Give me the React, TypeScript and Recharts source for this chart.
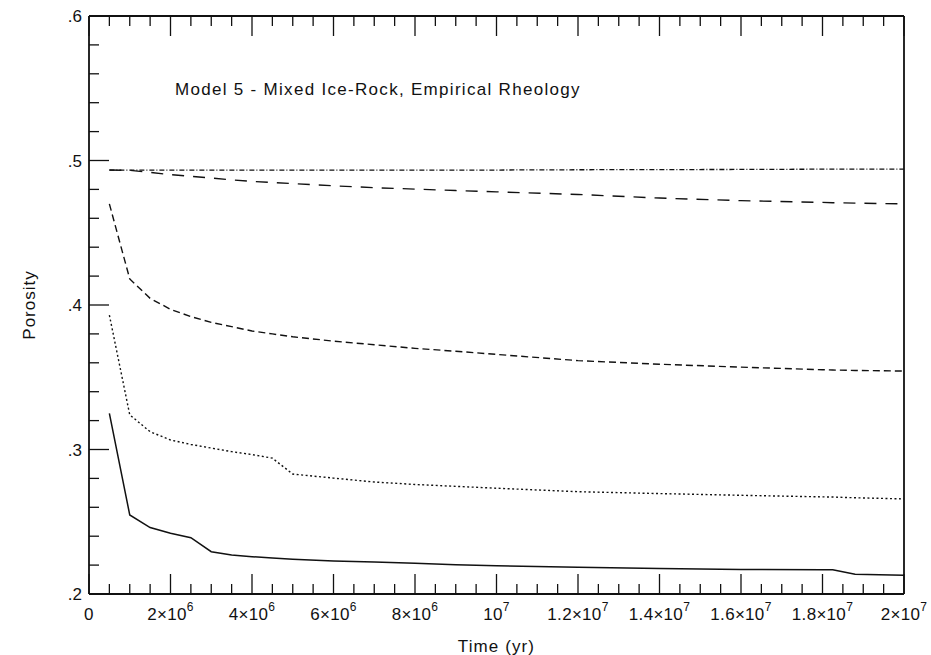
import { Line, LineChart, XAxis, YAxis } from "recharts";

// time in years
const times = [
  5e5, 1e6, 1.5e6, 2e6, 2.5e6, 3e6, 3.5e6, 4e6, 4.5e6, 5e6, 6e6, 7e6, 8e6, 9e6,
  1e7, 1.2e7, 1.4e7, 1.6e7, 1.8e7, 1.825e7, 1.88e7, 2e7,
];

const porosityA = [
  0.325, 0.2547, 0.246, 0.242, 0.239, 0.2293, 0.227, 0.2258, 0.2249, 0.224, 0.2228, 0.2222,
  0.2212, 0.2202, 0.2195, 0.2185, 0.2176, 0.217, 0.2168, 0.2167, 0.2136, 0.213,
];
const porosityB = [
  0.393, 0.324, 0.3123, 0.3066, 0.3035, 0.301, 0.2985, 0.2965, 0.294, 0.283, 0.2802, 0.2775,
  0.2758, 0.2745, 0.2732, 0.2708, 0.2695, 0.2683, 0.2672, 0.2671, 0.2666, 0.2658,
];
const porosityC = [
  0.47, 0.418, 0.4046, 0.397, 0.392, 0.388, 0.385, 0.382, 0.38, 0.378, 0.375, 0.3725, 0.37,
  0.368, 0.3658, 0.3615, 0.359, 0.357, 0.3552, 0.355, 0.3547, 0.3543,
];
const porosityD = [
  0.4934, 0.4932, 0.4918, 0.4902, 0.489, 0.4879, 0.4866, 0.4855, 0.4848, 0.484, 0.4825,
  0.4812, 0.4802, 0.4792, 0.4783, 0.4765, 0.474, 0.4722, 0.471, 0.4708, 0.4705, 0.47,
];
const porosityE = [
  0.4934, 0.4934, 0.4934, 0.4934, 0.4934, 0.4934, 0.4934, 0.4934, 0.4934, 0.4934, 0.4934,
  0.4934, 0.4934, 0.4934, 0.4934, 0.4936, 0.4937, 0.4938, 0.494, 0.494, 0.494, 0.4941,
];

const xLabelValues = [0, 2e6, 4e6, 6e6, 8e6, 1e7, 1.2e7, 1.4e7, 1.6e7, 1.8e7, 2e7];
const xLabelMantissa = ["0", "2", "4", "6", "8", "", "1.2", "1.4", "1.6", "1.8", "2"];
const xLabelExponent = ["", "6", "6", "6", "6", "7", "7", "7", "7", "7", "7"];

const yLabelValues = [0.2, 0.3, 0.4, 0.5, 0.6];
const yLabels = [".2", ".3", ".4", ".5", ".6"];

const data = times.map((t, i) => ({
  t,
  a: porosityA[i],
  b: porosityB[i],
  c: porosityC[i],
  d: porosityD[i],
  e: porosityE[i],
}));

const xTicks = Array.from({ length: 41 }, (_, i) => i * 5e5);
const yTicks = Array.from({ length: 21 }, (_, i) => Math.round((0.2 + i * 0.02) * 100) / 100);

const INK = "#111";
const FONT = "'Liberation Sans', Arial, sans-serif";

const isXMajor = (v: number) => xLabelValues.includes(v);
const isYMajor = (v: number) => yLabelValues.some((m) => Math.abs(m - v) < 1e-6);

function BottomTick({ x, y, payload }: any) {
  const v = payload.value;
  const major = isXMajor(v);
  const idx = xLabelValues.indexOf(v);
  let label = null;
  if (idx >= 0) {
    const m = xLabelMantissa[idx];
    const e = xLabelExponent[idx];
    label = (
      <text
        x={x}
        y={y + 26}
        textAnchor="middle"
        fontSize={17}
        letterSpacing={0.3}
        fontFamily={FONT}
        fill={INK}
      >
        {e === "" ? m : m === "" ? "10" : `${m}×10`}
        {e !== "" && (
          <tspan fontSize={12} dy={-9}>
            {e}
          </tspan>
        )}
      </text>
    );
  }
  return (
    <g>
      <line x1={x} x2={x} y1={y} y2={y - (major ? 20 : 10)} stroke={INK} strokeWidth={1.3} />
      {label}
    </g>
  );
}

function TopTick({ x, y, payload }: any) {
  const major = isXMajor(payload.value);
  return <line x1={x} x2={x} y1={y} y2={y + (major ? 20 : 10)} stroke={INK} strokeWidth={1.3} />;
}

function LeftTick({ x, y, payload }: any) {
  const v = payload.value;
  const major = isYMajor(v);
  const idx = yLabelValues.findIndex((m) => Math.abs(m - v) < 1e-6);
  return (
    <g>
      <line x1={x} x2={x + (major ? 20 : 10)} y1={y} y2={y} stroke={INK} strokeWidth={1.3} />
      {idx >= 0 && (
        <text x={x - 7} y={y + 6} textAnchor="end" fontSize={17} fontFamily={FONT} fill={INK}>
          {yLabels[idx]}
        </text>
      )}
    </g>
  );
}

function RightTick({ x, y, payload }: any) {
  const major = isYMajor(payload.value);
  return <line x1={x} x2={x - (major ? 20 : 10)} y1={y} y2={y} stroke={INK} strokeWidth={1.3} />;
}

export default function App() {
  const axisLine = { stroke: INK, strokeWidth: 1.8 };
  return (
    <div style={{ position: "absolute", left: 0, top: 0, width: 931, height: 655, background: "#fff" }}>
      <LineChart
        width={931}
        height={655}
        data={data}
        margin={{ top: 15, right: 26, bottom: 21, left: 39 }}
      >
        <XAxis
          xAxisId="bottom"
          dataKey="t"
          type="number"
          domain={[0, 2e7]}
          ticks={xTicks}
          interval={0}
          height={40}
          tickSize={0}
          tickMargin={0}
          tickLine={false}
          axisLine={axisLine}
          tick={<BottomTick />}
        />
        <XAxis
          xAxisId="top"
          orientation="top"
          dataKey="t"
          type="number"
          domain={[0, 2e7]}
          ticks={xTicks}
          interval={0}
          height={1}
          tickSize={0}
          tickMargin={0}
          tickLine={false}
          axisLine={axisLine}
          tick={<TopTick />}
        />
        <YAxis
          yAxisId="left"
          type="number"
          domain={[0.2, 0.6]}
          ticks={yTicks}
          interval={0}
          width={50}
          tickSize={0}
          tickMargin={0}
          tickLine={false}
          axisLine={axisLine}
          tick={<LeftTick />}
        />
        <YAxis
          yAxisId="right"
          orientation="right"
          type="number"
          domain={[0.2, 0.6]}
          ticks={yTicks}
          interval={0}
          width={1}
          tickSize={0}
          tickMargin={0}
          tickLine={false}
          axisLine={axisLine}
          tick={<RightTick />}
        />
        <Line xAxisId="bottom" yAxisId="left" dataKey="e" type="linear" dot={false} stroke={INK} strokeWidth={1.3} strokeDasharray="5 2 1 2" isAnimationActive={false} />
        <Line xAxisId="bottom" yAxisId="left" dataKey="d" type="linear" dot={false} stroke={INK} strokeWidth={1.4} strokeDasharray="12 9" isAnimationActive={false} />
        <Line xAxisId="bottom" yAxisId="left" dataKey="c" type="linear" dot={false} stroke={INK} strokeWidth={1.4} strokeDasharray="7 4" isAnimationActive={false} />
        <Line xAxisId="bottom" yAxisId="left" dataKey="b" type="linear" dot={false} stroke={INK} strokeWidth={1.4} strokeDasharray="2 2.5" isAnimationActive={false} />
        <Line xAxisId="bottom" yAxisId="left" dataKey="a" type="linear" dot={false} stroke={INK} strokeWidth={1.5} isAnimationActive={false} />
      </LineChart>
      <div
        style={{
          position: "absolute",
          left: 175,
          top: 80,
          fontFamily: FONT,
          fontSize: 17,
          letterSpacing: 1.3,
          color: INK,
          whiteSpace: "nowrap",
        }}
      >
        Model 5 - Mixed Ice-Rock, Empirical Rheology
      </div>
      <div
        style={{
          position: "absolute",
          left: 0,
          width: 993,
          top: 637,
          textAlign: "center",
          fontFamily: FONT,
          fontSize: 17,
          letterSpacing: 1.1,
          color: INK,
        }}
      >
        Time (yr)
      </div>
      <div
        style={{
          position: "absolute",
          left: 30,
          top: 305,
          transform: "translate(-50%, -50%) rotate(-90deg)",
          fontFamily: FONT,
          fontSize: 17,
          letterSpacing: 1,
          color: INK,
          whiteSpace: "nowrap",
        }}
      >
        Porosity
      </div>
    </div>
  );
}
